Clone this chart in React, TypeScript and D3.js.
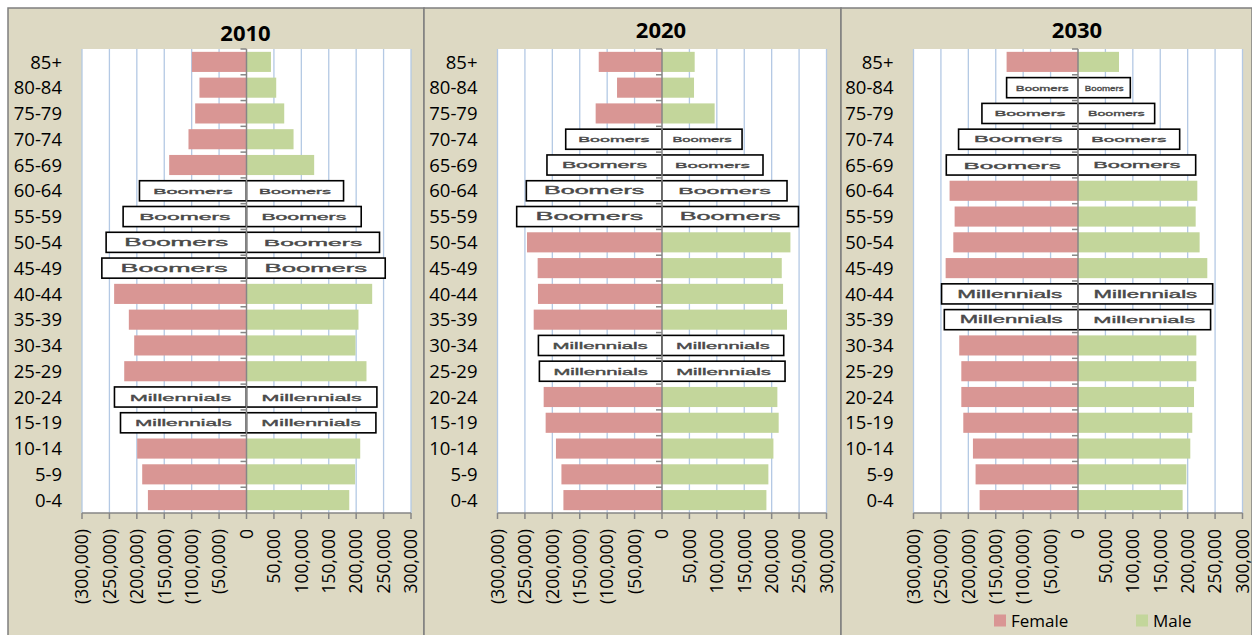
import React from "react";
import * as d3 from "d3";

const ageGroups = ["85+","80-84","75-79","70-74","65-69","60-64","55-59","50-54","45-49","40-44","35-39","30-34","25-29","20-24","15-19","10-14","5-9","0-4"];

const years = ["2010", "2020", "2030"];

const female2010 = [99600, 85800, 93600, 105800, 141000, 195200, 225000, 256000, 263800, 241400, 214600, 204800, 223000, 240800, 229800, 199400, 190200, 179800];
const male2010 = [44600, 54200, 68800, 85800, 123400, 177000, 209200, 242600, 253000, 229200, 204200, 198800, 218800, 237800, 236000, 207400, 198000, 187400];
const female2020 = [115400, 82000, 121000, 175600, 209800, 247400, 265000, 246200, 226800, 226200, 234000, 225400, 223600, 215800, 212200, 193400, 183400, 179800];
const male2020 = [59600, 58400, 96000, 146000, 184200, 228000, 248800, 234200, 218400, 220800, 228000, 222000, 224400, 210400, 212800, 203200, 194000, 190400];
const female2030 = [130200, 130200, 175200, 217800, 240200, 234200, 225000, 227400, 241400, 248800, 243800, 216600, 212800, 212800, 209200, 191600, 186800, 179400];
const male2030 = [74800, 95400, 139800, 185400, 214600, 217600, 214600, 221800, 235800, 245600, 241800, 215800, 215800, 211600, 208400, 204800, 197600, 190800];

const boomers2010 = ["60-64","55-59","50-54","45-49"];
const millennials2010 = ["20-24","15-19"];
const boomers2020 = ["70-74","65-69","60-64","55-59"];
const millennials2020 = ["30-34","25-29"];
const boomers2030 = ["80-84","75-79","70-74","65-69"];
const millennials2030 = ["40-44","35-39"];

const xTicks = [-300000,-250000,-200000,-150000,-100000,-50000,0,50000,100000,150000,200000,250000,300000];
const legendLabels = ["Female", "Male"];

const FEMALE = "#D99694";
const MALE = "#C3D69B";
const BG = "#DDD9C3";
const GRID = "#B4C9E4";
const AXIS = "#868686";
const FONT = "'Open Sans', Lato, sans-serif";

const panels = [
  { year: years[0], female: female2010, male: male2010, boomers: boomers2010, millennials: millennials2010, left: 8, right: 424, plotLeft: 82, titleY: 40.5 },
  { year: years[1], female: female2020, male: male2020, boomers: boomers2020, millennials: millennials2020, left: 424, right: 841, plotLeft: 497.5, titleY: 37.7 },
  { year: years[2], female: female2030, male: male2030, boomers: boomers2030, millennials: millennials2030, left: 841, right: 1252, plotLeft: 913.5, titleY: 37.7 },
];

const PLOT_W = 329;
const PLOT_TOP = 49;
const PLOT_BOTTOM = 513;

const fmt = (v: number) => (v < 0 ? `(${d3.format(",")(-v)})` : d3.format(",")(v));

function Panel({ p, showLegend }: { p: typeof panels[0]; showLegend: boolean }) {
  const x = d3.scaleLinear().domain([-300000, 300000]).range([p.plotLeft, p.plotLeft + PLOT_W]);
  const y = d3.scaleBand<string>().domain(ageGroups).range([PLOT_TOP, PLOT_BOTTOM]).paddingInner(0.22).paddingOuter(0.11);
  const x0 = x(0);
  const bw = y.bandwidth();
  const step = y.step();
  const boundaries = d3.range(ageGroups.length + 1).map((i) => PLOT_TOP + i * step);

  const box = (key: string, x1: number, x2: number, yy: number, label: string) => {
    const w = x2 - x1;
    const fs = Math.min(11, Math.max(8, w * 0.075));
    return (
      <g key={key}>
        <rect x={x1} y={yy} width={w} height={bw} fill="#fff" stroke="#000" strokeWidth={1.6} />
        <text
          x={x1 + w / 2}
          y={yy + bw / 2 + fs * 0.36}
          textAnchor="middle"
          fontFamily="'Liberation Sans', Arial, sans-serif"
          fontSize={fs}
          fill="#4a4a4a"
          stroke="#4a4a4a"
          strokeWidth={0.35}
          textLength={w * (label === "Boomers" ? 0.74 : 0.77)}
          lengthAdjust="spacingAndGlyphs"
        >
          {label}
        </text>
      </g>
    );
  };

  return (
    <g>
      <rect x={p.left} y={8} width={p.right - p.left} height={640} fill={BG} stroke="#7F7F7F" strokeWidth={1.5} />
      <text x={x0 - 1} y={p.titleY} textAnchor="middle" fontFamily={FONT} fontWeight="bold" fontSize={22} fill="#000">
        {p.year}
      </text>
      <rect x={p.plotLeft} y={PLOT_TOP} width={PLOT_W} height={PLOT_BOTTOM - PLOT_TOP} fill="#fff" />
      {xTicks.filter((t) => t !== 0).map((t) => (
        <line key={t} x1={x(t)} x2={x(t)} y1={PLOT_TOP} y2={PLOT_BOTTOM} stroke={GRID} strokeWidth={1.3} />
      ))}
      {ageGroups.map((g, i) => {
        const yy = y(g)!;
        const isB = p.boomers.includes(g);
        const isM = p.millennials.includes(g);
        const fx = x(-p.female[i]);
        const mx = x(p.male[i]);
        if (isB || isM) {
          const label = isB ? "Boomers" : "Millennials";
          return (
            <g key={g}>
              {box(g + "f", fx, x0, yy, label)}
              {box(g + "m", x0, mx, yy, label)}
            </g>
          );
        }
        return (
          <g key={g}>
            <rect x={fx} y={yy} width={x0 - fx} height={bw} fill={FEMALE} />
            <rect x={x0} y={yy} width={mx - x0} height={bw} fill={MALE} />
          </g>
        );
      })}
      <line x1={x0} x2={x0} y1={PLOT_TOP} y2={PLOT_BOTTOM} stroke={AXIS} strokeWidth={1.5} />
      {boundaries.slice(0, -1).map((b, i) => (
        <line key={i} x1={x0 - 6} x2={x0} y1={b} y2={b} stroke={AXIS} strokeWidth={1.5} />
      ))}
      {ageGroups.map((g) => (
        <text key={g} x={p.plotLeft - 20} y={y(g)! + bw / 2} dy="0.36em" textAnchor="end" fontFamily={FONT} fontSize={18.5} fill="#000">
          {g}
        </text>
      ))}
      <line x1={p.plotLeft} x2={p.plotLeft + PLOT_W} y1={PLOT_BOTTOM} y2={PLOT_BOTTOM} stroke={AXIS} strokeWidth={1.5} />
      {xTicks.map((t) => (
        <g key={t}>
          <line x1={x(t)} x2={x(t)} y1={PLOT_BOTTOM} y2={PLOT_BOTTOM + 6} stroke={AXIS} strokeWidth={1.5} />
          <text
            transform={`translate(${x(t)},${529}) rotate(-90)`}
            dy="0.36em"
            textAnchor="end"
            fontFamily={FONT}
            fontSize={17.5}
            fill="#000"
          >
            {fmt(t)}
          </text>
        </g>
      ))}
      {showLegend && (
        <g>
          <rect x={994} y={614.5} width={12} height={12} fill={FEMALE} />
          <text x={1011} y={626.5} fontFamily={FONT} fontSize={17} fill="#000">{legendLabels[0]}</text>
          <rect x={1136} y={614.5} width={12} height={12} fill={MALE} />
          <text x={1153} y={626.5} fontFamily={FONT} fontSize={17} fill="#000">{legendLabels[1]}</text>
        </g>
      )}
    </g>
  );
}

export default function App() {
  return (
    <svg width={1252} height={635} style={{ position: "absolute", left: 0, top: 0, background: "#fff" }}>
      <rect x={0} y={0} width={1252} height={635} fill="#fff" />
      {panels.map((p, i) => (
        <Panel key={p.year} p={p} showLegend={i === 2} />
      ))}
    </svg>
  );
}
